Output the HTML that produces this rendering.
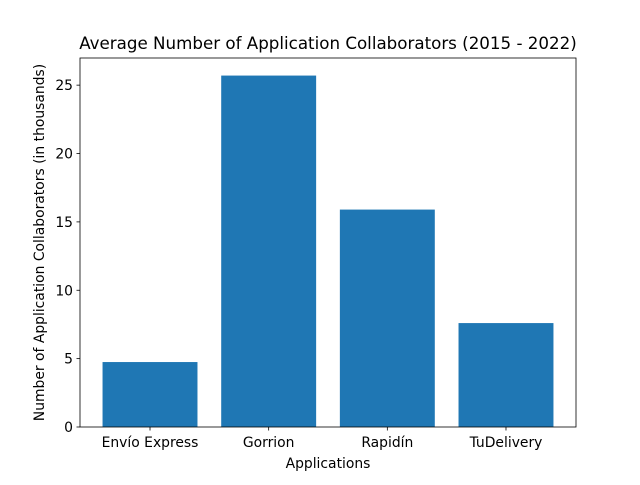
<!DOCTYPE html>
<html><head><meta charset="utf-8"><style>
body{margin:0;background:#fff;}
svg text{font-family:"DejaVu Sans","Liberation Sans",sans-serif;fill:#000;}
</style></head><body>
<svg id="chart" width="640" height="480">
<rect width="640" height="480" fill="#fff"/>
<text x="328" y="49" font-size="16.7" text-anchor="middle">Average Number of Application Collaborators (2015 - 2022)</text>
<g id="bars"></g>
<g id="axes"></g>
<text x="328" y="468" font-size="13.9" text-anchor="middle">Applications</text>
<text transform="translate(44,242.5) rotate(-90)" font-size="13.9" text-anchor="middle">Number of Application Collaborators (in thousands)</text>
</svg>
<script>
const categories = ["Envío Express","Gorrion","Rapidín","TuDelivery"];
const values = [4.75, 25.7, 15.9, 7.6];
const yTicks = [0,5,10,15,20,25];

const L=80,R=576,T=58,B=427;
const ymax=Math.max(...values)*1.05;
const y=v=>B-(v/ymax)*(B-T);
const xmin=-0.59,xmax=categories.length-1+0.59;
const x=i=>L+(i-xmin)/(xmax-xmin)*(R-L);
const bw=0.8*(R-L)/(xmax-xmin);
const NS="http://www.w3.org/2000/svg";
const bars=document.getElementById('bars'), axes=document.getElementById('axes');
function mk(tag,attrs,parent){const e=document.createElementNS(NS,tag);for(const k in attrs)e.setAttribute(k,attrs[k]);parent.appendChild(e);return e;}
values.forEach((v,i)=>{
  const r=mk('rect',{x:x(i)-bw/2,y:y(v),width:bw,height:B-y(v),fill:'#1f77b4'},bars);
  
  
  const t=mk('line',{x1:x(i),x2:x(i),y1:B,y2:B+3.5,stroke:'#000','stroke-width':0.8},axes);
  
  
  const l=mk('text',{x:x(i),y:B+20,'font-size':13.9,'text-anchor':'middle'},axes);
  l.textContent=categories[i];
  
  
});
yTicks.forEach(v=>{
  const t=mk('line',{x1:L-3.5,x2:L,y1:y(v),y2:y(v),stroke:'#000','stroke-width':0.8},axes);
  
  
  const l=mk('text',{x:L-7,y:y(v)+5,'font-size':13.9,'text-anchor':'end'},axes);
  l.textContent=v;
  
  
});
const f=mk('rect',{x:L,y:T,width:R-L,height:B-T,fill:'none',stroke:'#000','stroke-width':0.8},axes);


</script>
</body></html>
